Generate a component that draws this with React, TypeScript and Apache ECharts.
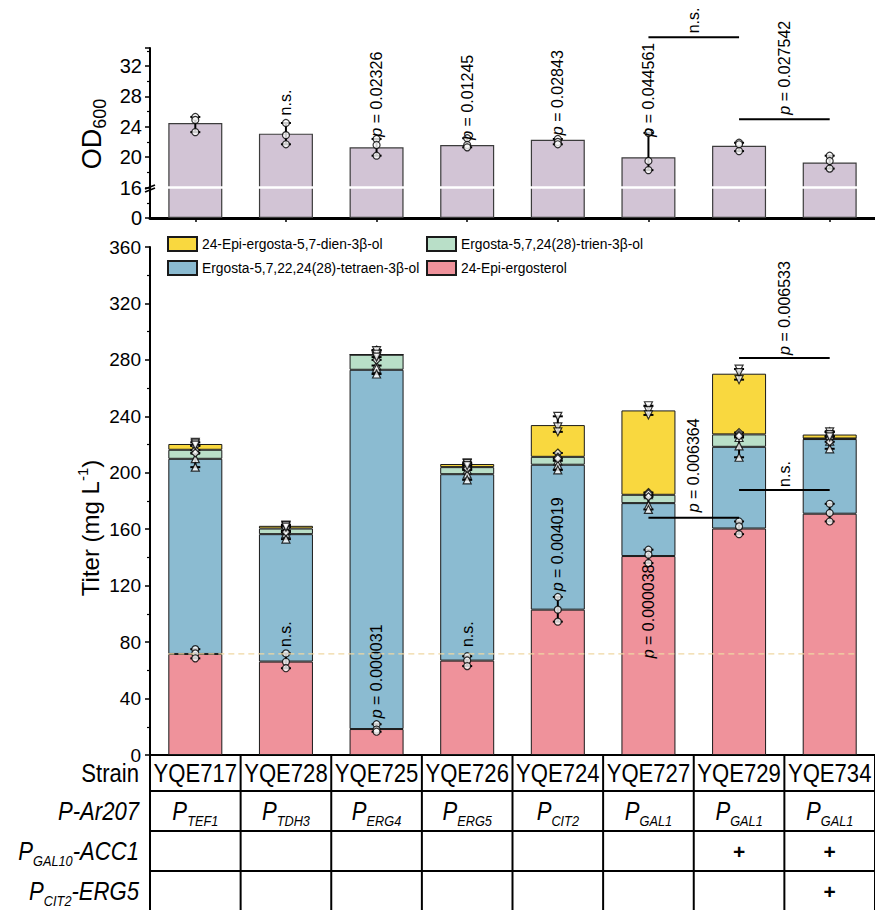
import React, { useEffect, useRef } from 'react';
import * as echarts from 'echarts';

// ---------------- data ----------------
const strains = ['YQE717', 'YQE728', 'YQE725', 'YQE726', 'YQE724', 'YQE727', 'YQE729', 'YQE734'];
const promoters = ['TEF1', 'TDH3', 'ERG4', 'ERG5', 'CIT2', 'GAL1', 'GAL1', 'GAL1'];
const acc1Marks = ['', '', '', '', '', '', '+', '+'];
const erg5Marks = ['', '', '', '', '', '', '', '+'];

const od600 = [24.5, 23.1, 21.3, 21.6, 22.3, 20.0, 21.5, 19.3];
const od600Reps = [
  [25.3, 24.9, 23.3],
  [24.5, 22.9, 21.7],
  [22.4, 21.6, 20.2],
  [22.5, 21.6, 21.3],
  [22.4, 22.0, 21.7],
  [23.2, 19.5, 18.3],
  [21.9, 21.7, 20.8],
  [20.2, 19.5, 18.5],
];
const odTickLabels = ['0', '16', '20', '24', '28', '32'];

const epiErgosterol = [71.6, 66.2, 18.4, 66.9, 103.0, 141.0, 160.5, 171.0];
const tetraen = [138.3, 90.3, 254.6, 132.1, 102.7, 37.5, 57.9, 52.9];
const trien = [6.4, 4.0, 10.7, 5.0, 5.6, 5.9, 8.8, 0.4];
const dien = [4.1, 1.9, 0, 2.2, 22.5, 59.8, 43.0, 2.8];

// replicate points (cumulative heights as plotted)
const epiErgosterolReps = [[75, 72, 68.5], [72, 66, 61.5], [21.8, 18, 16.5], [70, 67, 63], [112, 103, 94.5], [145.5, 142, 136], [165.5, 162, 156.5], [178, 171.5, 165.5]];
const tetraenReps = [[216, 210, 204], [159, 157, 153], [276, 274, 270], [202, 199, 195], [208.5, 205.5, 202], [184.5, 177, 174], [225, 219, 211], [229, 222.5, 217]];
const trienReps = [[219, 216, 214], [162, 161, 158], [287, 285, 280], [206, 204, 203], [214, 211, 210], [186, 185, 183], [228.5, 227, 226], [226, 224.5, 222]];
const dienReps = [[221.5, 220.5, 219.5], [163, 162.5, 161.5], [286.5, 284, 282], [207, 206.5, 205], [240, 232.5, 229], [247.5, 244, 241], [273.5, 271, 266], [229, 227, 225.5]];

const referenceLevel = 71.6;

const odSigLabels = [
  { x: 1, y: 25.5, text: 'n.s.' },
  { x: 2, y: 22.7, text: 'p = 0.02326' },
  { x: 3, y: 22.3, text: 'p = 0.01245' },
  { x: 4, y: 22.9, text: 'p = 0.02843' },
  { x: 5, y: 22.7, text: 'p = 0.044561' },
  { x: 5.5, y: 36.3, text: 'n.s.' },
  { x: 6.5, y: 25.6, text: 'p = 0.027542' },
];
const odBrackets = [
  { from: 5, to: 6, y: 35.8 },
  { from: 6, to: 7, y: 25.0 },
];
const mainSigLabels = [
  { x: 1, y: 76.5, text: 'n.s.' },
  { x: 2, y: 26, text: 'p = 0.000031' },
  { x: 3, y: 76.5, text: 'n.s.' },
  { x: 4, y: 116, text: 'p = 0.004019' },
  { x: 5, y: 68.5, text: 'p = 0.000038' },
  { x: 5.5, y: 172, text: 'p = 0.006364' },
  { x: 6.5, y: 190, text: 'n.s.' },
  { x: 6.5, y: 283.5, text: 'p = 0.006533' },
];
const mainBrackets = [
  { from: 5, to: 6, y: 168.2 },
  { from: 6, to: 7, y: 187.8 },
  { from: 6, to: 7, y: 281.4 },
];

// ---------------- helpers ----------------
const FONT = "'Liberation Sans', Arial, Helvetica, sans-serif";

// broken OD axis: 0-16 compressed into 4 display units, above 16 linear
const odToAxis = (v: number) => (v <= 16 ? v / 4 : v - 12);

const NAME_DIEN = '24-Epi-ergosta-5,7-dien-3β-ol';
const NAME_TETRAEN = 'Ergosta-5,7,22,24(28)-tetraen-3β-ol';
const NAME_TRIEN = 'Ergosta-5,7,24(28)-trien-3β-ol';
const NAME_EPI = '24-Epi-ergosterol';

const C_YELLOW = '#f9d83f';
const C_GREEN = '#b9dfc8';
const C_BLUE = '#8bbbd1';
const C_PINK = '#ef929b';
const C_LILAC = '#d2c4d5';

const errRenderItem = (params: any, api: any) => {
  const x = api.value(0);
  const p1 = api.coord([x, api.value(1)]);
  const p2 = api.coord([x, api.value(2)]);
  const w = 5;
  const st = { stroke: '#000', lineWidth: 2 };
  return {
    type: 'group',
    children: [
      { type: 'line', shape: { x1: p1[0], y1: p1[1], x2: p2[0], y2: p2[1] }, style: st },
      { type: 'line', shape: { x1: p1[0] - w, y1: p1[1], x2: p1[0] + w, y2: p1[1] }, style: st },
      { type: 'line', shape: { x1: p2[0] - w, y1: p2[1], x2: p2[0] + w, y2: p2[1] }, style: st },
    ],
  };
};

const repsToPoints = (reps: number[][], f: (v: number) => number = (v) => v) =>
  reps.flatMap((r, i) => r.map((v) => [i, f(v)]));
const repsToErr = (reps: number[][], f: (v: number) => number = (v) => v) =>
  reps.map((r, i) => [i, f(Math.min(...r)), f(Math.max(...r))]);

export default function App() {
  const ref = useRef<HTMLDivElement>(null);
  useEffect(() => {
    if (!ref.current) return;
    const chart = echarts.init(ref.current, undefined, { renderer: 'svg' });

    const pointStyle = { color: '#fff', borderColor: '#000', borderWidth: 1.2 };
    const barBorder = { borderColor: '#1a1a1a', borderWidth: 1 };
    const legendCommon = {
      orient: 'vertical',
      top: 236,
      itemWidth: 29,
      itemHeight: 14,
      itemGap: 8,
      icon: 'rect',
      selectedMode: false,
      padding: 0,
      textStyle: { fontSize: 13.8, fontFamily: FONT, color: '#000' },
    };

    const option: any = {
      animation: false,
      backgroundColor: '#fff',
      grid: [
        { left: 150, top: 48, width: 728, height: 170 },
        { left: 150, top: 247, width: 728, height: 508 },
      ],
      legend: [
        { ...legendCommon, left: 167, data: [NAME_DIEN, NAME_TETRAEN] },
        { ...legendCommon, left: 426, data: [NAME_TRIEN, NAME_EPI] },
      ],
      xAxis: [
        {
          type: 'category', gridIndex: 0, data: strains,
          axisLine: { lineStyle: { color: '#000', width: 3 } },
          axisTick: { show: true, alignWithLabel: true, length: 4, lineStyle: { color: '#000', width: 1.5 } },
          axisLabel: { show: false },
        },
        {
          type: 'category', gridIndex: 1, data: strains,
          axisLine: { lineStyle: { color: '#000', width: 2 } },
          axisTick: { show: false },
          axisLabel: { show: false },
        },
      ],
      yAxis: [
        {
          type: 'value', gridIndex: 0, min: 0, max: 22.37, interval: 4,
          axisLine: { show: true, lineStyle: { color: '#000', width: 2 } },
          axisTick: { show: true, length: 5, lineStyle: { color: '#000', width: 1.5 } },
          minorTick: { show: true, splitNumber: 2, length: 3, lineStyle: { color: '#000', width: 1.2 } },
          splitLine: { show: false },
          axisLabel: {
            fontSize: 20, fontFamily: FONT, color: '#000', margin: 8,
            formatter: (d: number) => odTickLabels[Math.round(d / 4)] ?? '',
          },
        },
        {
          type: 'value', gridIndex: 1, min: 0, max: 360, interval: 40,
          axisLine: { show: true, lineStyle: { color: '#000', width: 2 } },
          axisTick: { show: true, length: 5, lineStyle: { color: '#000', width: 1.5 } },
          minorTick: { show: true, splitNumber: 2, length: 3, lineStyle: { color: '#000', width: 1.2 } },
          splitLine: { show: false },
          axisLabel: { fontSize: 19, fontFamily: FONT, color: '#000', margin: 9 },
        },
      ],
      series: [
        {
          name: 'OD600', type: 'bar', xAxisIndex: 0, yAxisIndex: 0, barWidth: 54,
          data: od600.map(odToAxis),
          itemStyle: { color: C_LILAC, borderColor: '#3c3c3c', borderWidth: 1.2 },
          z: 2,
        },
        {
          name: 'OD600 err', type: 'custom', xAxisIndex: 0, yAxisIndex: 0,
          renderItem: errRenderItem, data: repsToErr(od600Reps, odToAxis), z: 3,
          encode: { x: 0, y: [1, 2] },
        },
        {
          name: 'OD600 pts', type: 'scatter', xAxisIndex: 0, yAxisIndex: 0,
          data: repsToPoints(od600Reps, odToAxis), symbol: 'circle', symbolSize: 7,
          itemStyle: pointStyle, z: 4,
        },
        {
          name: NAME_EPI, type: 'bar', stack: 'titer', xAxisIndex: 1, yAxisIndex: 1, barWidth: 54,
          data: epiErgosterol, itemStyle: { color: C_PINK, ...barBorder }, z: 2,
        },
        {
          name: NAME_TETRAEN, type: 'bar', stack: 'titer', xAxisIndex: 1, yAxisIndex: 1, barWidth: 54,
          data: tetraen, itemStyle: { color: C_BLUE, ...barBorder }, z: 2,
        },
        {
          name: NAME_TRIEN, type: 'bar', stack: 'titer', xAxisIndex: 1, yAxisIndex: 1, barWidth: 54,
          data: trien, itemStyle: { color: C_GREEN, ...barBorder }, z: 2,
        },
        {
          name: NAME_DIEN, type: 'bar', stack: 'titer', xAxisIndex: 1, yAxisIndex: 1, barWidth: 54,
          data: dien, itemStyle: { color: C_YELLOW, ...barBorder }, z: 2,
        },
        {
          name: 'titer err', type: 'custom', xAxisIndex: 1, yAxisIndex: 1, renderItem: errRenderItem,
          data: [
            ...repsToErr(epiErgosterolReps), ...repsToErr(tetraenReps),
            ...repsToErr(trienReps), ...repsToErr(dienReps),
          ],
          encode: { x: 0, y: [1, 2] }, z: 3,
        },
        {
          name: 'epi pts', type: 'scatter', xAxisIndex: 1, yAxisIndex: 1,
          data: repsToPoints(epiErgosterolReps), symbol: 'circle', symbolSize: 7, itemStyle: pointStyle, z: 4,
        },
        {
          name: 'tetraen pts', type: 'scatter', xAxisIndex: 1, yAxisIndex: 1,
          data: repsToPoints(tetraenReps), symbol: 'triangle', symbolSize: 8, itemStyle: pointStyle, z: 4,
        },
        {
          name: 'trien pts', type: 'scatter', xAxisIndex: 1, yAxisIndex: 1,
          data: repsToPoints(trienReps), symbol: 'diamond', symbolSize: 8, itemStyle: pointStyle, z: 4,
        },
        {
          name: 'dien pts', type: 'scatter', xAxisIndex: 1, yAxisIndex: 1,
          data: repsToPoints(dienReps), symbol: 'triangle', symbolRotate: 180, symbolSize: 8, itemStyle: pointStyle, z: 4,
        },
      ],
    };
    chart.setOption(option);

    // ---------- annotations through the library's scales ----------
    const conv = (si: number, x: number, y: number): number[] => {
      const i0 = Math.floor(x);
      const f = x - i0;
      const a = chart.convertToPixel({ seriesIndex: si }, [i0, y]) as number[];
      if (!f) return a;
      const b = chart.convertToPixel({ seriesIndex: si }, [i0 + 1, y]) as number[];
      return [a[0] + (b[0] - a[0]) * f, a[1]];
    };
    const odPx = (x: number, v: number) => conv(0, x, odToAxis(v));
    const mPx = (x: number, v: number) => conv(3, x, v);

    const g: any[] = [];
    const rotLabel = (p: number[], text: string, size = 16) => {
      const isP = text.startsWith('p');
      const str = isP ? `{i|p}{n|${text.slice(1)}}` : `{n|${text}}`;
      g.push({
        type: 'text', x: p[0], y: p[1], rotation: Math.PI / 2, z: 20,
        style: {
          text: str,
          rich: {
            i: { fontStyle: 'italic', fontSize: size, fontFamily: FONT, fill: '#000' },
            n: { fontSize: size, fontFamily: FONT, fill: '#000' },
          },
          align: 'left', textAlign: 'left', verticalAlign: 'middle', textVerticalAlign: 'middle',
        },
      });
    };
    const hLine = (a: number[], b: number[], stroke = '#000', lw = 2, dash?: number[]) => {
      g.push({
        type: 'line', z: 20,
        shape: { x1: a[0], y1: a[1], x2: b[0], y2: b[1] },
        style: { stroke, lineWidth: lw, lineDash: dash },
      });
    };

    // OD axis break: white gap line + break marks
    const brk = conv(0, 0, 4);
    hLine([152, brk[1]], [878, brk[1]], '#fff', 2.5);
    hLine([145, brk[1] + 1.5], [155, brk[1] - 2.5], '#000', 1.6);
    hLine([145, brk[1] + 4.5], [155, brk[1] + 0.5], '#000', 1.6);

    odSigLabels.forEach((s) => rotLabel(odPx(s.x, s.y), s.text));
    odBrackets.forEach((b) => hLine(odPx(b.from, b.y), odPx(b.to, b.y)));
    mainSigLabels.forEach((s) => rotLabel(mPx(s.x, s.y), s.text));
    mainBrackets.forEach((b) => hLine(mPx(b.from, b.y), mPx(b.to, b.y)));

    // reference level (dashed)
    const r0 = mPx(0, referenceLevel);
    const r1 = mPx(strains.length - 1, referenceLevel);
    hLine([r0[0] - 27, r0[1]], [r1[0] + 27, r1[1]], '#f0d7a2', 1.3, [6, 4]);

    // axis titles
    g.push({
      type: 'text', x: 92, y: 134, rotation: Math.PI / 2, z: 20,
      style: {
        text: '{a|OD}{b|600}',
        rich: {
          a: { fontSize: 27, fontFamily: FONT, fill: '#000', lineHeight: 34 },
          b: { fontSize: 18, fontFamily: FONT, fill: '#000', verticalAlign: 'bottom' },
        },
        align: 'center', textAlign: 'center', verticalAlign: 'middle', textVerticalAlign: 'middle',
      },
    });
    g.push({
      type: 'text', x: 90, y: 528, rotation: Math.PI / 2, z: 20,
      style: {
        text: '{a|Titer (mg L}{b|-1}{a|)}',
        rich: {
          a: { fontSize: 24, fontFamily: FONT, fill: '#000', lineHeight: 30 },
          b: { fontSize: 15, fontFamily: FONT, fill: '#000', verticalAlign: 'top' },
        },
        align: 'center', textAlign: 'center', verticalAlign: 'middle', textVerticalAlign: 'middle',
      },
    });

    // ---------- table ----------
    const centers = strains.map((_, i) => mPx(i, 0)[0]);
    const half = (centers[1] - centers[0]) / 2;
    const tTop = mPx(0, 0)[1];
    const rowLines = [791, 831, 871];
    const rowCenters = [773, 811, 851, 891];
    rowLines.forEach((y) => hLine([centers[0] - half, y], [centers[7] + half, y], '#000', 2));
    for (let k = 0; k <= strains.length; k++) {
      const x = centers[0] - half + k * 2 * half;
      hLine([x, tTop], [x, 912], '#000', 2);
    }
    const NARROW_SCALE = 0.85;
    const tText = (x: number, y: number, text: string, rich: any, align = 'center', sx = NARROW_SCALE) => {
      g.push({
        type: 'text', x, y, z: 20, scaleX: sx,
        style: {
          text, rich, align, textAlign: align, verticalAlign: 'middle', textVerticalAlign: 'middle',
        },
      });
    };
    const richPlain = { a: { fontSize: 26, fontFamily: FONT, fill: '#000' } };
    const richItal = {
      p: { fontSize: 26, fontFamily: FONT, fontStyle: 'italic', fill: '#000', lineHeight: 34 },
      s: { fontSize: 15, fontFamily: FONT, fontStyle: 'italic', fill: '#000', verticalAlign: 'bottom' },
    };
    const richPlus = { a: { fontSize: 21, fontFamily: FONT, fontWeight: 'bold', fill: '#000' } };
    strains.forEach((s, i) => tText(centers[i], rowCenters[0], `{a|${s}}`, richPlain));
    promoters.forEach((p, i) => tText(centers[i], rowCenters[1], `{p|P}{s|${p}}`, richItal));
    acc1Marks.forEach((m, i) => m && tText(centers[i], rowCenters[2], `{a|${m}}`, richPlus, 'center', 1));
    erg5Marks.forEach((m, i) => m && tText(centers[i], rowCenters[3], `{a|${m}}`, richPlus, 'center', 1));
    const lx = 139;
    tText(lx, rowCenters[0], '{a|Strain}', richPlain, 'right');
    tText(lx, rowCenters[1], '{p|P-Ar207}', richItal, 'right');
    tText(lx, rowCenters[2], '{p|P}{s|GAL10}{p|-ACC1}', richItal, 'right');
    tText(lx, rowCenters[3], '{p|P}{s|CIT2}{p|-ERG5}', richItal, 'right');

    chart.setOption({ graphic: g });

    return () => chart.dispose();
  }, []);

  return (
    <div
      ref={ref}
      style={{ position: 'absolute', left: 0, top: 0, width: 875, height: 910, background: '#fff' }}
    />
  );
}
